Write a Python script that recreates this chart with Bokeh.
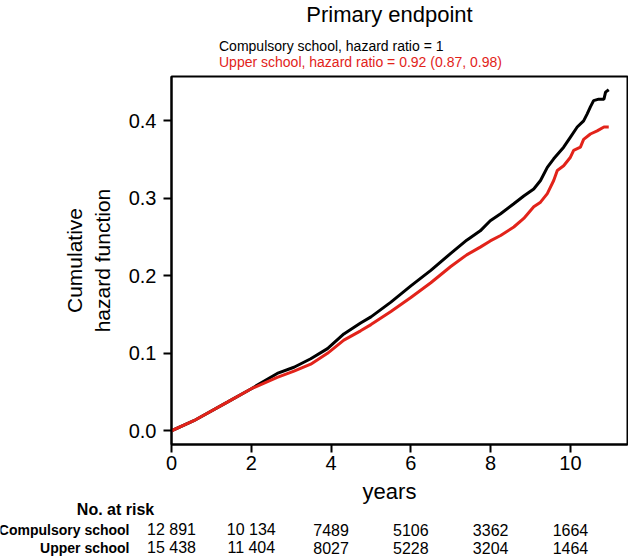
from bokeh.plotting import figure
from bokeh.layouts import column
from bokeh.models import Range1d, Legend, LegendItem, FixedTicker, NumeralTickFormatter
from bokeh.embed import file_html
from bokeh.resources import INLINE
from bokeh.core.properties import value

# ---- data ----
title_text = "Primary endpoint"
groups = ["Compulsory school", "Upper school"]
legend_labels = ["Compulsory school, hazard ratio = 1",
                 "Upper school, hazard ratio = 0.92 (0.87, 0.98)"]

comp_t = [0, 0.56, 1.4, 1.99, 2.65, 3.07, 3.49, 3.91, 4.32, 4.74, 5.0, 5.5, 6.0, 6.5, 7.0, 7.4,
          7.74, 7.99, 8.25, 8.58, 8.83, 9.08, 9.25, 9.42, 9.58, 9.83, 10.0, 10.17, 10.33, 10.42,
          10.5, 10.58, 10.71, 10.84, 10.88, 10.96]
comp_h = [0, 0.013, 0.037, 0.054, 0.074, 0.082, 0.093, 0.106, 0.125, 0.139, 0.147, 0.166, 0.187,
          0.207, 0.229, 0.246, 0.258, 0.271, 0.280, 0.293, 0.303, 0.312, 0.323, 0.340, 0.351,
          0.366, 0.379, 0.392, 0.400, 0.409, 0.418, 0.426, 0.428, 0.428, 0.437, 0.440]

upper_t = [0, 0.56, 1.4, 1.99, 2.65, 3.07, 3.49, 3.91, 4.32, 4.74, 5.0, 5.5, 6.0, 6.5, 7.0, 7.4,
           7.74, 7.99, 8.25, 8.58, 8.83, 9.08, 9.25, 9.42, 9.58, 9.67, 9.83, 10.0, 10.08, 10.25,
           10.33, 10.5, 10.67, 10.84, 10.96]
upper_h = [0, 0.013, 0.037, 0.054, 0.069, 0.077, 0.086, 0.100, 0.117, 0.129, 0.137, 0.154, 0.172,
           0.191, 0.212, 0.227, 0.237, 0.245, 0.252, 0.263, 0.274, 0.289, 0.295, 0.306, 0.323,
           0.336, 0.342, 0.353, 0.362, 0.366, 0.376, 0.383, 0.387, 0.392, 0.392]

x_ticks = [0, 2, 4, 6, 8, 10]
y_ticks = [0.0, 0.1, 0.2, 0.3, 0.4]
risk_comp = ["12 891", "10 134", "7489", "5106", "3362", "1664"]
risk_upper = ["15 438", "11 404", "8027", "5228", "3204", "1464"]

# ---- layout constants ----
W = 628
HEAD_H, MAIN_H, TAB_H = 70, 408, 80
X0, X1 = 0.0, 11.43
Y0, Y1 = -0.0177, 0.4572
FL, FR = 171, 627
PX_PER_YR = (FR - FL) / (X1 - X0)

RED = "#e2231a"
FONT = "Liberation Sans"


def bare(fig):
    fig.axis.visible = False
    fig.grid.visible = False
    fig.outline_line_color = None
    fig.background_fill_color = "white"
    fig.border_fill_color = "white"
    return fig

# ---- header: title + legend ----
head = bare(figure(width=W, height=HEAD_H, output_backend="svg", toolbar_location=None,
                   x_range=Range1d(0, W), y_range=Range1d(HEAD_H, 0), frame_align=False,
                   min_border=0, min_border_left=0, min_border_right=0,
                   min_border_top=0, min_border_bottom=0))
head.text(x=[389], y=[14], text=[title_text], text_align="center", text_baseline="middle",
          text_font=value(FONT), text_font_size=value("22px"), text_color="black")
d1 = head.line([], [], line_color="black", line_width=2)
d2 = head.line([], [], line_color=RED, line_width=2)
for i, (r, col) in enumerate([(d1, "black"), (d2, RED)]):
    lg = Legend(items=[LegendItem(label=legend_labels[i], renderers=[r])],
                location=(182, max(0, int(HEAD_H - (53.5 + 17 * i)))),
                background_fill_alpha=0, border_line_color=None,
                padding=0, margin=0, spacing=0,
                glyph_width=23, glyph_height=17, label_height=17,
                label_standoff=14,
                label_text_font=FONT, label_text_font_size="14px",
                label_text_color=col)
    head.add_layout(lg, "center")

# ---- main plot ----
p = figure(width=W, height=MAIN_H, output_backend="svg", toolbar_location=None,
           x_range=Range1d(X0, X1), y_range=Range1d(Y0, Y1), frame_align=False,
           min_border_left=FL, min_border_right=W - FR, min_border_top=6, min_border_bottom=34)
p.background_fill_color = "white"
p.border_fill_color = "white"
p.grid.visible = False
p.outline_line_color = "black"
p.outline_line_width = 2

for ax in (p.xaxis, p.yaxis):
    ax.axis_line_width = 2
    ax.axis_line_color = "black"
    ax.major_tick_line_width = 2
    ax.major_tick_line_color = "black"
    ax.major_tick_in = 0
    ax.major_tick_out = 8
    ax.minor_tick_line_color = None
    ax.major_label_text_font = FONT
    ax.major_label_text_font_size = "20px"
    ax.major_label_text_color = "black"

p.xaxis.ticker = FixedTicker(ticks=x_ticks)
p.yaxis.ticker = FixedTicker(ticks=y_ticks)
p.yaxis.formatter = NumeralTickFormatter(format="0.0")
p.xaxis.major_label_standoff = 3
p.yaxis.major_label_standoff = 7
p.yaxis.axis_label = "Cumulative\nhazard function"
p.yaxis.axis_label_text_font = FONT
p.yaxis.axis_label_text_font_size = "21px"
p.yaxis.axis_label_text_font_style = "normal"
p.yaxis.axis_label_text_color = "black"
p.yaxis.axis_label_standoff = 12

p.line(comp_t, comp_h, line_color="black", line_width=3)
p.line(upper_t, upper_h, line_color=RED, line_width=3)

# ---- bottom: x label + number at risk ----
TOP = HEAD_H + MAIN_H  # page y of table figure top
tab = bare(figure(width=W, height=TAB_H, output_backend="svg", toolbar_location=None,
                  x_range=Range1d(X0 - FL / PX_PER_YR, X0 + (W - FL) / PX_PER_YR),
                  y_range=Range1d(TOP + TAB_H, TOP), frame_align=False,
                  min_border=0, min_border_left=0, min_border_right=0,
                  min_border_top=0, min_border_bottom=0))


def tx(px):
    return X0 + (px - FL) / PX_PER_YR


tab.text(x=[tx(389)], y=[491], text=["years"], text_align="center", text_baseline="middle",
         text_font=value(FONT), text_font_size=value("22px"), text_color="black")
tab.text(x=[tx(115)], y=[509], text=["No. at risk"], text_align="center", text_baseline="middle",
         text_font=value(FONT), text_font_size=value("16px"), text_font_style="bold",
         text_color="black")
for row_i, (name, vals) in enumerate(zip(groups, [risk_comp, risk_upper])):
    yy = 529 + 18 * row_i
    tab.text(x=[tx(129)], y=[yy], text=[name], text_align="right", text_baseline="middle",
             text_font=value(FONT), text_font_size=value("14px"), text_font_style="bold",
             text_color="black")
    tab.text(x=x_ticks, y=[yy] * len(x_ticks), text=vals, text_align="center",
             text_baseline="middle", text_font=value(FONT), text_font_size=value("16px"),
             text_color="black")

layout = column(head, p, tab, spacing=0)
open("out.html", "w").write(file_html(layout, INLINE))
